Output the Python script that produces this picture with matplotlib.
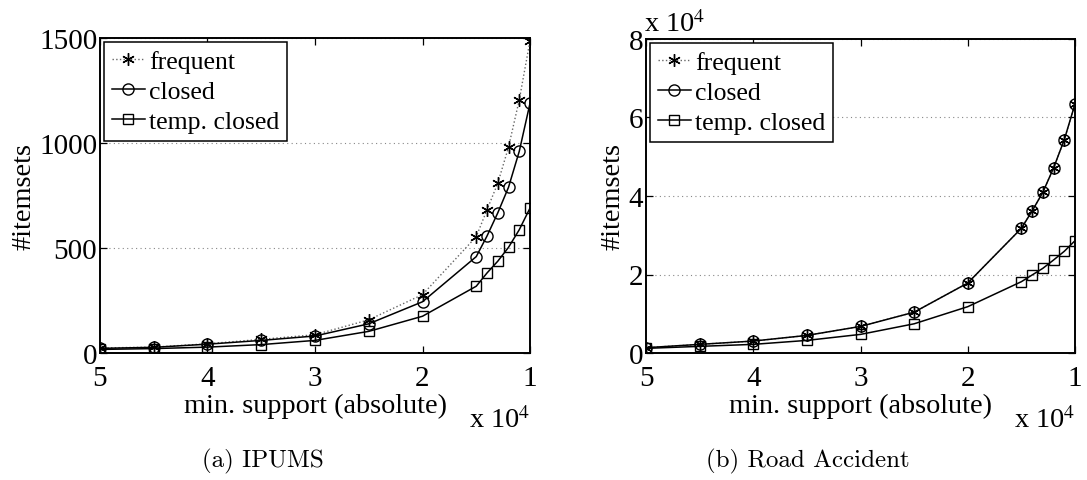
import matplotlib
matplotlib.use("Agg")
import matplotlib.pyplot as plt
from matplotlib.ticker import FuncFormatter, FixedLocator

# minimum support thresholds (absolute)
min_support = [50000, 45000, 40000, 35000, 30000, 25000, 20000,
               15000, 14000, 13000, 12000, 11000, 10000]

# IPUMS
ipums_frequent = [24, 28, 44, 65, 87, 158, 278, 554, 682, 808, 980, 1205, 1487]
ipums_closed = [22, 27, 42, 60, 81, 139, 244, 459, 557, 667, 789, 960, 1189]
ipums_temp_closed = [17, 21, 28, 40, 60, 103, 175, 318, 381, 437, 503, 587, 690]

# Road Accident
road_frequent = [1350, 2200, 3040, 4480, 6770, 10400, 17830,
                 31770, 36180, 40940, 47130, 54340, 63440]
road_closed = [1350, 2200, 3040, 4480, 6770, 10400, 17830,
               31770, 36180, 40940, 47130, 54340, 63440]
road_temp_closed = [1180, 1690, 2200, 3210, 4740, 7440, 11800,
                    18170, 19870, 21570, 23690, 25910, 28610]

x_ticks = [50000, 40000, 30000, 20000, 10000]
series_names = ["frequent", "closed", "temp. closed"]

serif = ["Liberation Serif", "DejaVu Serif"]
plt.rcParams["font.family"] = serif
plt.rcParams["mathtext.fontset"] = "stix"

W, H = 1087, 481
fig = plt.figure(figsize=(W / 100, H / 100), dpi=100)

TICK_FS = 21
LABEL_FS = 20.3
LEGEND_FS = 18.5
ASTERISK = (6, 2, 0)


def draw_panel(rect, freq, closed, temp, yticks, ylim, yfmt, caption, cap_x, y_offset):
    ax = fig.add_axes(rect)
    ax.plot(min_support, freq, linestyle=":", color="#666666", linewidth=1.0,
            marker=ASTERISK, markersize=9, markeredgecolor="black",
            markerfacecolor="black", markeredgewidth=1.0, label=series_names[0],
            zorder=3)
    ax.plot(min_support, closed, linestyle="-", color="black", linewidth=1.1,
            marker="o", markersize=8, markerfacecolor="none",
            markeredgecolor="black", markeredgewidth=1.0, label=series_names[1],
            zorder=4)
    ax.plot(min_support, temp, linestyle="-", color="black", linewidth=1.1,
            marker="s", markersize=6.5, markerfacecolor="none",
            markeredgecolor="black", markeredgewidth=1.0, label=series_names[2],
            zorder=4)

    ax.set_xlim(50000, 10000)
    ax.set_ylim(*ylim)
    ax.xaxis.set_major_locator(FixedLocator(x_ticks))
    ax.xaxis.set_major_formatter(FuncFormatter(lambda v, p: f"{v / 1e4:g}"))
    ax.yaxis.set_major_locator(FixedLocator(yticks))
    ax.yaxis.set_major_formatter(FuncFormatter(yfmt))

    ax.tick_params(direction="in", length=5, width=0.9, top=True, right=True,
                   labelsize=TICK_FS)
    ax.tick_params(axis="x", pad=9)
    ax.tick_params(axis="y", pad=2)
    for s in ax.spines.values():
        s.set_linewidth(1.4)

    ax.yaxis.grid(True, linestyle=(0, (1, 3)), color="#888888", linewidth=0.8)
    ax.set_axisbelow(True)

    ax.set_xlabel("min. support (absolute)", fontsize=LABEL_FS, labelpad=1)
    ax.set_ylabel("#itemsets", fontsize=LABEL_FS, labelpad=2)

    leg = ax.legend(loc="upper left", fontsize=LEGEND_FS, handlelength=1.3,
                    handletextpad=0.15, borderpad=0.3, labelspacing=0.28,
                    borderaxespad=0.15, fancybox=False, framealpha=1,
                    edgecolor="black")
    leg.get_frame().set_linewidth(1.1)
    leg.set_zorder(10)

    ax.text(1.0, -0.17, r"x 10$^4$", transform=ax.transAxes, ha="right",
            va="top", fontsize=LABEL_FS)
    if y_offset:
        ax.text(-0.005, 1.005, r"x 10$^4$", transform=ax.transAxes, ha="left",
                va="bottom", fontsize=LABEL_FS)

    fig.text(cap_x / W, 1 - 461 / H, caption, ha="center", va="center",
             fontsize=18, family=["cmr10", "DejaVu Serif"])
    return ax


left_rect = [100 / W, 1 - 354 / H, 430 / W, 315 / H]
right_rect = [646 / W, 1 - 354 / H, 429 / W, 314 / H]

draw_panel(left_rect, ipums_frequent, ipums_closed, ipums_temp_closed,
           [0, 500, 1000, 1500], (0, 1500), lambda v, p: f"{v:g}",
           "(a) IPUMS", 263, False)
draw_panel(right_rect, road_frequent, road_closed, road_temp_closed,
           [0, 20000, 40000, 60000, 80000], (0, 80000),
           lambda v, p: f"{v / 1e4:g}", "(b) Road Accident", 808, True)

fig.savefig("out.png", dpi=100)
